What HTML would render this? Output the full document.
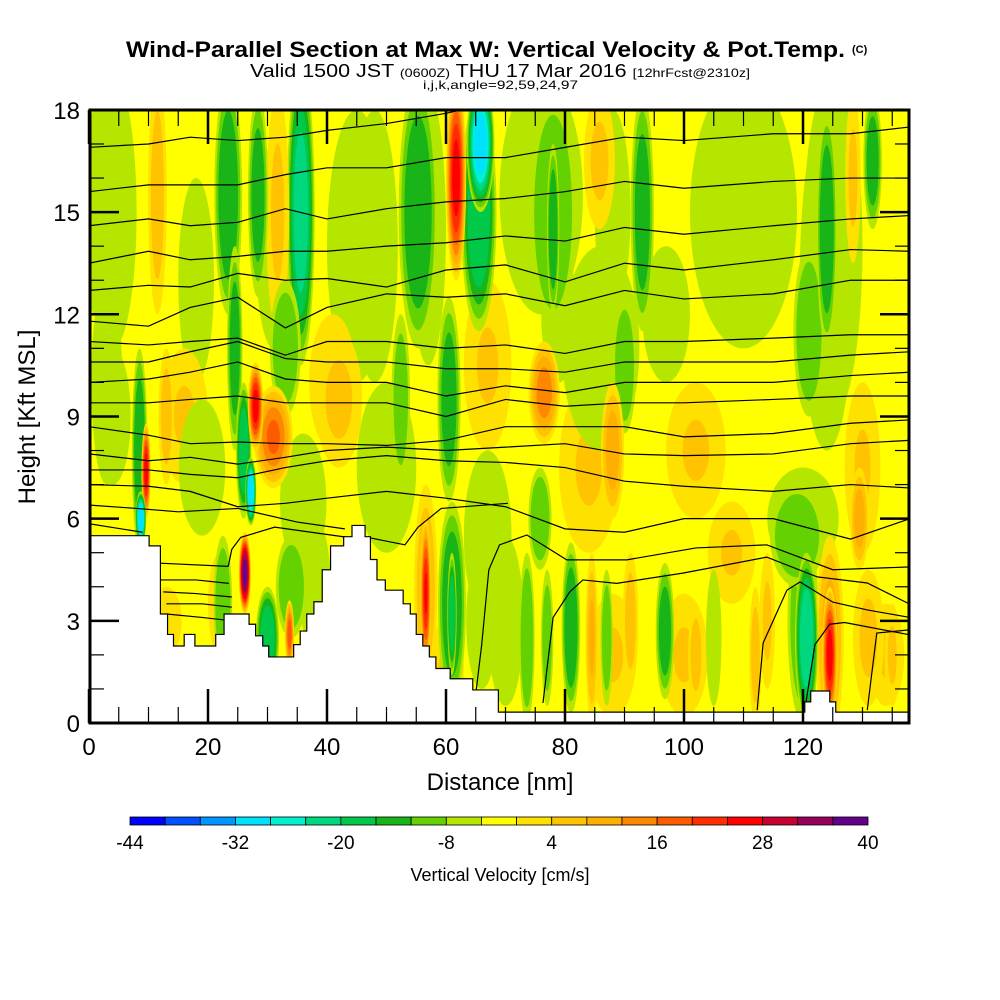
<!DOCTYPE html>
<html><head><meta charset="utf-8">
<style>
html,body{margin:0;padding:0;background:#fff;}
svg{display:block;font-family:"Liberation Sans",sans-serif;}
</style></head>
<body>
<svg id="chart" width="1000" height="1000" viewBox="0 0 1000 1000" xmlns="http://www.w3.org/2000/svg">
<rect x="0" y="0" width="1000" height="1000" fill="#fff"/>
<text x="126" y="57" font-size="22" font-weight="bold" textLength="719" lengthAdjust="spacingAndGlyphs">Wind-Parallel Section at Max W: Vertical Velocity &amp; Pot.Temp.</text>
<text x="852" y="53" font-size="11" font-weight="bold">(C)</text>
<text x="250" y="77" font-size="18" textLength="500" lengthAdjust="spacingAndGlyphs">Valid 1500 JST <tspan font-size="12">(0600Z)</tspan> THU 17 Mar 2016 <tspan font-size="12">[12hrFcst@2310z]</tspan></text>
<text x="423" y="89" font-size="12" textLength="155" lengthAdjust="spacingAndGlyphs">i,j,k,angle=92,59,24,97</text>
<defs><clipPath id="plotClip"><rect x="90" y="110" width="819" height="613"/></clipPath></defs>
<g id="plot" clip-path="url(#plotClip)"></g>
<g id="axes"></g>
<g id="cbar"></g>
<text x="500" y="790" font-size="24" text-anchor="middle">Distance [nm]</text>
<text transform="translate(35,417) rotate(-90)" font-size="24" text-anchor="middle">Height [Kft MSL]</text>
<text x="500" y="881" font-size="18" text-anchor="middle">Vertical Velocity [cm/s]</text>
</svg>
<script>
// ---- data ----
const bandColors=["#0000ff","#0050ff","#0096ff","#00e0ff","#00f0d0","#00d880","#00c848","#18b418","#64d200","#b4e600","#ffff00","#ffe100","#ffc300","#ffaf00","#ff8700","#ff5a00","#ff2d00","#ff0000","#c80032","#96005a","#64008c"];
const cbarTicks=[-44,-32,-20,-8,4,16,28,40];
const xTicks=[0,20,40,60,80,100,120];
const yTicks=[0,3,6,9,12,15,18];
// broad weak regions: [x nm, z kft, half-width nm, half-height kft, value cm/s]
const broadX=[4,18,31,45,57,76,88,110,125,50,67,70,16,41,67,84,102,130,22,88,100,134,4,120,60,97,108,79];
const broadZ=[15,13,14,14,14.5,15.5,15,15,14,7.5,5.5,3,9,10,10.5,7.5,8,7.5,3.5,2,2,2,9,6,1.5,12,5,12];
const broadW=[4,3,3,5,3,7,3,9,5,5,4,3,4,4,4,5,5,3,2,4,4,3,3,6,3,4,4,3];
const broadH=[4,3,3,4,4,3.5,3,4,5,2.5,2.5,2.5,2,2,2.5,2.5,2,2.5,1.5,1.8,1.8,1.5,2,1.5,1.5,2,1.5,2];
const broadV=[-6,-6,-6,-6,-6,-6,-6,-6,-6,-6,-6,-6,5,5,5,5,5,5,5,5,5,5,-6,-6,5,-6,5,-6];
// vertical velocity cells: [x nm, z kft, half-width nm, half-height kft, peak cm/s]
const blobX=[1,5,11.5,23.4,28.4,35.6,31.7,48,55.3,60.5,61.7,65.5,65.8,78,78,93,85.8,106,124,124,131.7,128.4,
 3,13,19,8.5,9.6,8.7,24.5,26,27.2,28,31,26.2,36,34,33,42,52.4,76.5,90,86,121,88,75.8,129.5,119,
 13,22.5,30,33.7,38,56.6,56.6,61,61,66,73.6,77,81,87,96.8,105,120,120.6,84.5,91,102,112,114,124.5,124.5,131,135];
const blobZ=[15,16,15.5,15.5,15.5,15,15,14,15,9.5,16,15,17,15,14.5,15,16.5,15,13,14.5,16.5,16,
 10,9,7.5,8,7.4,6.0,11,8,6.8,9.3,8.4,4.4,6.5,4,11,9.5,9.5,9.7,10.5,11,11.5,8,6,6,5.5,
 3,3.5,2.5,2.6,4,4,3.8,3.5,3.2,3,2.5,2.5,2.8,2.5,2.7,2.5,3,2.5,2.5,3,2,2,3,2.5,2,2.5,2];
const blobW=[1.5,1.5,1.2,1.8,1.3,1.8,1.5,3,2.5,1.5,1.3,2.3,1.8,3,0.8,1.5,2,3,3.5,1.3,1.2,1,
 2,1,3,1,0.6,0.7,1,1,0.7,1,2.5,0.8,3,2,2,3,1.2,2,1.5,5,2,1.5,1.5,1.2,3.5,
 2,1.2,1.5,0.6,2,1.5,0.7,1.8,0.6,2,1,0.8,1.2,0.8,1.2,1,2,1.5,0.8,1,1,0.8,1,1.8,1,2,1];
const blobH=[3,3,3.5,3.5,3,4.5,3.5,4,4,3,3,3.5,2,3.5,2.5,3.5,2,3,5,3.5,2,2.5,
 3,2,2,3,1.4,0.8,3,2,1,1.3,1.5,1.2,2,1.5,2,2,2.5,1.5,2,3,2.5,2,1.5,1.5,1.5,
 1,2,1.5,1,2,3,2.2,3,1.8,2,2.5,2,2.5,2,2,2,3,2.5,2.5,2,1.5,2,2,3,2,2,1.5];
const blobV=[-8,-8,8,-16,-14,-22,6,-8,-16,-14,28,-20,-30,-12,-16,-14,6,-8,-8,-16,-14,6,
 -8,8,-8,-16,28,-32,-14,-20,-32,28,18,40,-8,-12,-12,6,-10,16,-12,-8,-12,12,-12,12,-12,
 4,-12,-20,20,-8,10,26,-16,-20,-8,-12,-10,-16,-10,-14,-8,-12,-24,10,8,8,8,6,12,28,6,6];
// terrain outline [nm, kft]
const terrX=[0,10.1,10.1,12,12,13.2,13.2,14.2,14.2,16,16,17.8,17.8,21.3,21.3,22.7,22.7,26.9,26.9,28,28,29.2,29.2,30.2,30.2,34.4,34.4,35.5,35.5,36.6,36.6,37.8,37.8,39.2,39.2,40.6,40.6,42.8,42.8,44.2,44.2,46.4,46.4,47.3,47.3,48.4,48.4,49.8,49.8,52.8,52.8,54,54,55,55,56.1,56.1,57.2,57.2,58.3,58.3,60.7,60.7,64.5,64.5,68.8,68.8,120.3,120.3,121.3,121.3,124.5,124.5,125.5,125.5,138];
const terrZ=[5.5,5.5,5.2,5.2,3.2,3.2,2.6,2.6,2.26,2.26,2.6,2.6,2.26,2.26,2.6,2.6,3.2,3.2,2.9,2.9,2.56,2.56,2.26,2.26,1.94,1.94,2.3,2.3,2.7,2.7,3.2,3.2,3.56,3.56,4.5,4.5,5.2,5.2,5.47,5.47,5.8,5.8,5.47,5.47,4.8,4.8,4.2,4.2,3.9,3.9,3.5,3.5,3.2,3.2,2.6,2.6,2.26,2.26,1.94,1.94,1.6,1.6,1.3,1.3,0.97,0.97,0.32,0.32,0.62,0.62,0.94,0.94,0.62,0.62,0.32,0.32];
// potential temperature contours (kft at knots)
const thetaKnots=[0,10,17,25,33,40,50,60,70,80,90,100,115,128,138];
const thetaLines=[
[16.9,17.0,17.2,17.1,17.2,17.4,17.6,17.9,18.3,18.3,18.3,18.3,18.3,18.3,18.3],
[15.6,15.8,15.8,15.8,16.1,16.3,16.3,16.6,16.6,16.9,17.2,17.1,17.3,17.3,17.5],
[14.6,14.8,14.6,14.7,15.1,14.8,15.1,15.3,15.4,15.6,15.9,15.7,15.9,16.0,16.0],
[13.5,13.85,13.6,13.7,13.85,13.85,14.0,14.1,14.3,14.15,14.55,14.35,14.6,14.8,14.9],
[12.7,12.85,12.8,13.2,13.0,13.05,12.8,13.3,13.45,12.95,13.5,13.3,13.6,13.9,13.85],
[11.8,11.65,12.2,12.5,11.6,12.2,12.6,12.5,12.6,12.25,12.7,12.45,12.6,13.0,13.0],
[11.2,11.1,11.2,11.3,10.8,11.2,11.2,11.0,11.1,10.85,11.2,11.2,11.3,11.4,11.4],
[10.6,10.6,10.9,11.2,10.7,10.6,10.6,10.4,10.4,10.3,10.6,10.6,10.6,10.8,10.9],
[10.0,10.1,10.3,10.6,10.1,10.0,10.0,9.6,9.9,9.7,10.0,10.0,10.0,10.2,10.3],
[9.4,9.4,9.5,9.6,9.4,9.4,9.4,9.0,9.5,9.3,9.4,9.4,9.5,9.6,9.6],
[8.7,8.45,8.2,8.25,8.2,8.2,8.15,8.3,8.7,8.7,8.7,8.4,8.5,8.8,8.9],
[7.9,7.7,7.8,7.6,7.8,8.0,8.1,8.0,8.1,8.2,7.9,7.85,7.9,8.2,8.3],
[7.43,7.43,7.3,7.2,7.5,7.7,7.85,7.7,7.65,7.5,7.1,6.95,6.8,7.0,6.9],
[7.0,6.95,6.8,6.35,6.45,6.6,6.8,6.6,6.35,5.7,5.6,6.0,6.0,5.4,6.0]];
// other contour segments [x nm, z kft] flat pairs
const thetaSegs=[
[0,6.4,8,6.3,15,6.2,25,6.3,35,5.9,43,5.7],
[0,5.85,9,5.6],
[11,4.7,23.4,4.6,24,5.1,25.5,5.45,31.2,5.75,43.5,5.45],
[12,4.2,18,4.2,23.5,4.1],[12.5,3.85,18,3.8,24,3.7],[13,3.5,19,3.5,24,3.4],[13,3.2,19,3.1,24,3.0],
[47.4,5.43,53.1,5.23,55.3,5.75,59.2,6.3,70.4,6.45],
[64.9,0.7,66,2.3,67.2,4.5,69,5.23,73.6,5.52,80.3,4.79,90.4,4.79,102,5.14,113.9,5.23,125,4.5,137.6,4.58],
[76.3,0.59,78,3.1,80.8,3.85,83,4.2,88.7,4.1,99.8,4.4,113.9,4.87,122.4,4.29,130.8,4.11,137.6,3.52],
[112.3,0.38,113.3,2.35,117.3,3.9,119.5,4.14,125,3.55,130.8,3.32,137.6,3.11],
[120.5,0.6,122,2.3,124.5,2.9,127,2.95,137.6,2.6],
[130.8,0.38,132.4,2.64,137.6,2.73]];

// ---- scales ----
const X0=89,PXNM=5.95,Y0=723,PXK=34.06;
const sx=v=>X0+v*PXNM, sy=v=>Y0-v*PXK;
const NS="http://www.w3.org/2000/svg";
function mk(tag,attrs,parent){const e=document.createElementNS(NS,tag);for(const k in attrs)e.setAttribute(k,attrs[k]);parent.appendChild(e);return e;}
const plot=document.getElementById('plot');
mk('rect',{x:90,y:110,width:819,height:613,fill:'#ffff00'},plot);
function bandOf(v){return Math.max(0,Math.min(20,Math.floor((v+44)/4)));}
function drawCell(x,z,w,h,v,name){
  const g=mk('g',{},plot);
  
  
  const levs=[];
  if(v>0){for(let l=0;l<v;l+=4)levs.push([l,bandOf(l+0.1)]);}
  else{for(let l=-4;l>v;l-=4)levs.push([l+4,bandOf(l-0.1)]);}
  levs.forEach(([l,b])=>{
    const s=Math.sqrt(Math.max(0.05,1-l/v));
    mk('ellipse',{cx:sx(x),cy:sy(z),rx:w*PXNM*s,ry:h*PXK*s,fill:bandColors[b]},g);
  });
}
broadV.forEach((v,i)=>drawCell(broadX[i],broadZ[i],broadW[i],broadH[i],v,'broad-velocity-region'));
const order=blobV.map((v,i)=>i).sort((a,b)=>blobW[b]*blobH[b]-blobW[a]*blobH[a]);
order.forEach(i=>drawCell(blobX[i],blobZ[i],blobW[i]*1.3,blobH[i],blobV[i],'velocity-cell'));
// theta lines
thetaLines.forEach(line=>{
  const p=mk('polyline',{points:line.map((z,j)=>sx(thetaKnots[j])+','+sy(z)).join(' '),fill:'none',stroke:'#000','stroke-width':1.2},plot);
  
  
});
thetaSegs.forEach(seg=>{
  let pts=[];for(let j=0;j<seg.length;j+=2)pts.push(sx(seg[j])+','+sy(seg[j+1]));
  const p=mk('polyline',{points:pts.join(' '),fill:'none',stroke:'#000','stroke-width':1.2},plot);
  
  
});
// terrain
{
  let pts=terrX.map((x,j)=>sx(x)+','+sy(terrZ[j]));
  pts.push(sx(140)+','+sy(terrZ[terrZ.length-1]),sx(140)+',730',sx(-1)+',730',sx(-1)+','+sy(terrZ[0]));
  const t=mk('polygon',{points:pts.join(' '),fill:'#fff',stroke:'#000','stroke-width':1.2},plot);
  
  
}
// axes
const ax=document.getElementById('axes');
mk('rect',{x:90,y:110,width:819,height:613,fill:'none',stroke:'#000','stroke-width':3},ax);
for(let v=0;v<=138;v+=5){
  const major=v%20===0, L=major?34:16, x=sx(v);
  mk('line',{x1:x,y1:723,x2:x,y2:723-L,stroke:'#000','stroke-width':major?2.5:1.2},ax);
  mk('line',{x1:x,y1:110,x2:x,y2:110+L,stroke:'#000','stroke-width':major?2.5:1.2},ax);
}
for(let v=0;v<=18;v+=1){
  const major=v%3===0, L=major?29:14, y=sy(v);
  mk('line',{x1:90,y1:y,x2:90+L,y2:y,stroke:'#000','stroke-width':major?2.5:1.2},ax);
  mk('line',{x1:909,y1:y,x2:909-L,y2:y,stroke:'#000','stroke-width':major?2.5:1.2},ax);
}
xTicks.forEach(v=>{
  const t=mk('text',{x:sx(v),y:755,'font-size':24,'text-anchor':'middle'},ax);t.textContent=v;
  
  
});
yTicks.forEach(v=>{
  const t=mk('text',{x:80,y:sy(v)+9,'font-size':24,'text-anchor':'end'},ax);t.textContent=v;
  
  
});
// colorbar
const cb=document.getElementById('cbar');
const CB0=130,CB1=868,cw=(CB1-CB0)/21;
bandColors.forEach((c,i)=>{
  const r=mk('rect',{x:CB0+i*cw,y:817,width:cw,height:8,fill:c,stroke:'#000','stroke-width':0.8},cb);
  
  
});
cbarTicks.forEach(v=>{
  const t=mk('text',{x:CB0+(v+44)/4*cw,y:849,'font-size':19,'text-anchor':'middle'},cb);t.textContent=v;
  
  
});
</script>
</body></html>
